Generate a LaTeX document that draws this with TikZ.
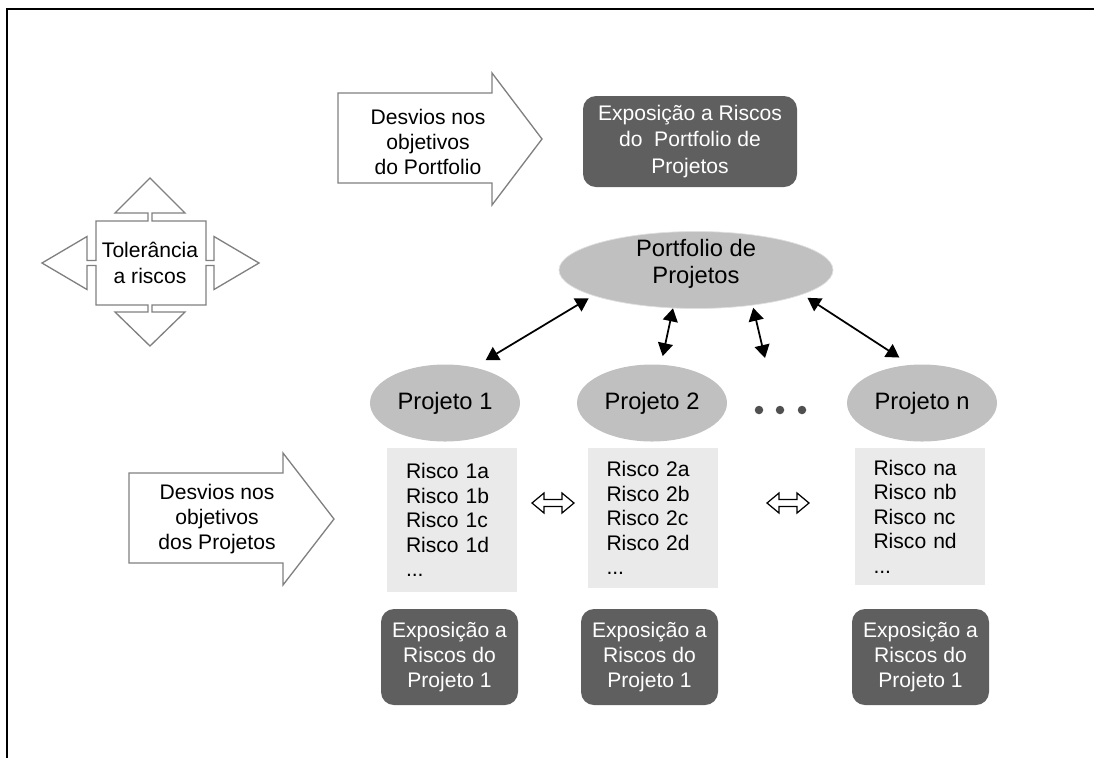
\documentclass[tikz,border=0pt]{standalone}
\usepackage{fontspec}
\setmainfont{Liberation Sans}
\usetikzlibrary{arrows.meta,shapes.geometric}
\definecolor{ellgray}{RGB}{192,192,192}
\definecolor{riskgray}{RGB}{234,234,234}
\definecolor{expogray}{RGB}{95,95,95}
\definecolor{shapegray}{RGB}{128,128,128}
\definecolor{dotgray}{RGB}{80,80,80}

\begin{document}
\begin{tikzpicture}[x=0.2mm, y=-0.2mm, font=\fontsize{12}{14.2}\selectfont,
  proj/.style={ellipse, fill=ellgray, minimum width=30mm, minimum height=15.4mm, inner sep=0pt,
               font=\fontsize{13.5}{16}\selectfont},
  risk/.style={fill=riskgray, text width=18.4mm, inner xsep=3.8mm, inner ysep=0pt,
               align=left, font=\fontsize{12}{13.9}\selectfont},
  expo/.style={fill=expogray, text=white, rounded corners=2.6mm, align=center, inner sep=0pt},
  hollow/.style={draw=shapegray, line width=0.75pt, fill=white},
  link/.style={{Triangle[length=2.6mm,width=3mm]}-{Triangle[length=2.6mm,width=3mm]}, line width=1pt}]

\useasboundingbox (0,0) rectangle (1094,758);

% --- frame ---
\draw[line width=1.3pt] (1094,9) -- (7,9) -- (7,758);

% --- tolerance cross ---
\draw[hollow] (150,178) -- (185,213) -- (152,213) -- (152,221) -- (206,221) -- (206,260.5)
  -- (214,260.5) -- (214,236.5) -- (259,263) -- (214,289.5) -- (214,265.5) -- (206,265.5)
  -- (206,305) -- (152,305) -- (152,312) -- (185,312) -- (150,346) -- (115,312) -- (148,312)
  -- (148,305) -- (96,305) -- (96,265.5) -- (87,265.5) -- (87,289.5) -- (42,263) -- (87,236.5)
  -- (87,260.5) -- (96,260.5) -- (96,221) -- (148,221) -- (148,213) -- (115,213) -- cycle;
\node[align=center, font=\fontsize{12}{15}\selectfont] (tol) at (150,263) {Tolerância\\a riscos};

% --- portfolio level ---
\draw[hollow] (338,93) -- (492,93) -- (492,73) -- (542,139) -- (492,205) -- (492,183) -- (338,183) -- cycle;
\node[align=center] (devp) at (428,142) {Desvios nos\\objetivos\\do Portfolio};
\node[expo, minimum width=42.8mm, minimum height=18.2mm, font=\fontsize{12}{15}\selectfont] (expop) at (690,141.5)
  {Exposição a Riscos\\do~ Portfolio de\\Projetos};
\node[ellipse, fill=ellgray, draw=black!12, minimum width=54.8mm, minimum height=15.4mm, inner sep=0pt]
  (port) at (696,270) {};
\node[align=center, font=\fontsize{13.5}{15.3}\selectfont] (portlbl) at (696,264) {Portfolio de\\Projetos};

% --- projects ---
\node[proj] (p1) at (445,403) {Projeto 1};
\node[proj] (p2) at (652,403) {Projeto 2};
\node[proj] (pn) at (922,403) {Projeto n};
\foreach \x in {759,780,802}{ \fill[dotgray] (\x,410) circle (0.85mm); }
\coordinate (etc) at (765,358);

\draw[link, shorten <=1mm, shorten >=2.7mm] (port.194) -- (p1.51);
\draw[link, shorten >=1.7mm] (port.239) -- (p2.77);
\draw[link, shorten <=0.5mm] (port.328) -- (etc);
\draw[link, shorten <=1.2mm, shorten >=2.6mm] (port.347) -- (pn.107);

% --- risk lists ---
\node[risk, minimum height=28.8mm] (r1) at (452,520) {Risco 1a\\Risco 1b\\Risco 1c\\Risco 1d\\...};
\node[risk, minimum height=28mm] (r2) at (652.5,518) {Risco 2a\\Risco 2b\\Risco 2c\\Risco 2d\\...};
\node[risk, minimum height=27.4mm] (rn) at (919.5,516.5) {Risco na\\Risco nb\\Risco nc\\Risco nd\\...};
\foreach \cx in {553,788}{
  \draw[fill=white, line width=0.7pt] (\cx-21,503) -- (\cx-9,493) -- (\cx-9,499.5) -- (\cx+9,499.5)
    -- (\cx+9,493) -- (\cx+21,503) -- (\cx+9,513) -- (\cx+9,506.5) -- (\cx-9,506.5) -- (\cx-9,513) -- cycle;
}

\draw[hollow] (129,473) -- (283,473) -- (283,453) -- (334,519) -- (283,585) -- (283,563) -- (129,563) -- cycle;
\node[align=center] (devj) at (217,519) {Desvios nos\\objetivos\\dos Projetos};

% --- exposure per project ---
\node[expo, minimum width=27.4mm, minimum height=19.2mm] (e1) at (449.5,657) {Exposição a\\Riscos do\\Projeto 1};
\node[expo, minimum width=27.4mm, minimum height=19.2mm] (e2) at (649.5,657) {Exposição a\\Riscos do\\Projeto 1};
\node[expo, minimum width=27.4mm, minimum height=19.2mm] (en) at (920.5,657) {Exposição a\\Riscos do\\Projeto 1};
\end{tikzpicture}
\end{document}
